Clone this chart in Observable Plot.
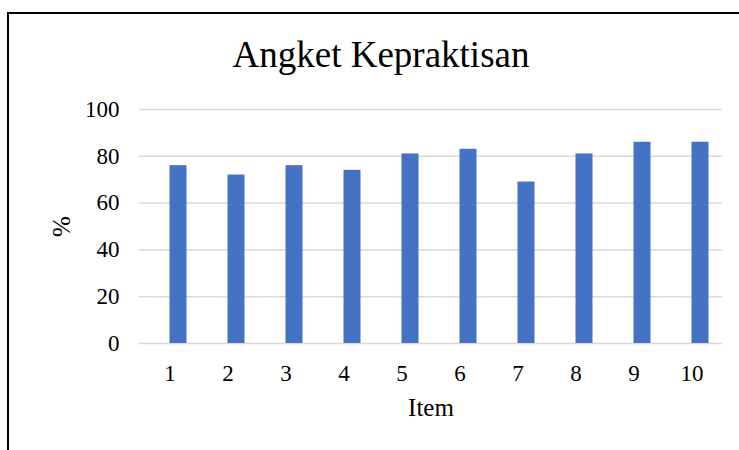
<!DOCTYPE html>
<html>
<head>
<meta charset="utf-8">
<script src="https://cdn.jsdelivr.net/npm/d3@7"></script>
<script src="https://cdn.jsdelivr.net/npm/@observablehq/plot@0.6"></script>
<style>
  html, body { margin: 0; padding: 0; background: #fff; }
  #wrap { position: relative; width: 739px; height: 450px; overflow: hidden; background: #fff; }
  #frame { position: absolute; left: 7px; top: 12px; width: 800px; height: 500px;
           border-left: 2px solid #000; border-top: 2px solid #000; box-sizing: border-box; }
  #title { position: relative; height: 80px; box-sizing: border-box; padding-top: 37px; padding-left: 23px;
           text-align: center; font-family: "Liberation Serif", "Times New Roman", Times, serif;
           font-size: 37px; line-height: 36px; color: #000; }
  #chart { position: relative; }
  #chart svg { display: block; }
</style>
</head>
<body>
<div id="wrap">
  <div id="frame"></div>
  <div id="title">Angket Kepraktisan</div>
  <div id="chart"></div>
</div>
<script>
const items = ["1", "2", "3", "4", "5", "6", "7", "8", "9", "10"];
const values = [76, 72, 76, 74, 81, 83, 69, 81, 86, 86];
const yTicks = [0, 20, 40, 60, 80, 100];
const xLabel = "Item";
const yLabel = "%";

const data = items.map((item, i) => ({item, value: values[i]}));

const chart = Plot.plot({
  width: 739,
  height: 370,
  marginTop: 29,
  marginBottom: 107,
  marginLeft: 139,
  marginRight: 17,
  style: {fontFamily: "'Liberation Serif', 'Times New Roman', Times, serif", fontSize: "23px", color: "#000", background: "transparent"},
  x: {type: "band", domain: items, paddingInner: 0.708, paddingOuter: 0.354, align: 0.5},
  y: {domain: [0, 100]},
  marks: [
    Plot.gridY(yTicks, {stroke: "#d9d9d9", strokeOpacity: 1, strokeWidth: 1.5}),
    Plot.barY(data, {x: "item", y: "value", fill: "#4472C4", dx: 8.5}),
    Plot.axisY(yTicks, {tickSize: 0, tickPadding: 20, label: null, fontSize: 23}),
    Plot.axisX({tickSize: 0, tickPadding: 21, label: null, fontSize: 23}),
    Plot.text([xLabel], {frameAnchor: "bottom", dy: 72, fontSize: 25, fill: "#000"}),
    Plot.text([yLabel], {frameAnchor: "left", dx: -78, rotate: -90, textAnchor: "middle", fontSize: 25, fill: "#000"})
  ]
});
document.getElementById("chart").appendChild(chart);
</script>
</body>
</html>
